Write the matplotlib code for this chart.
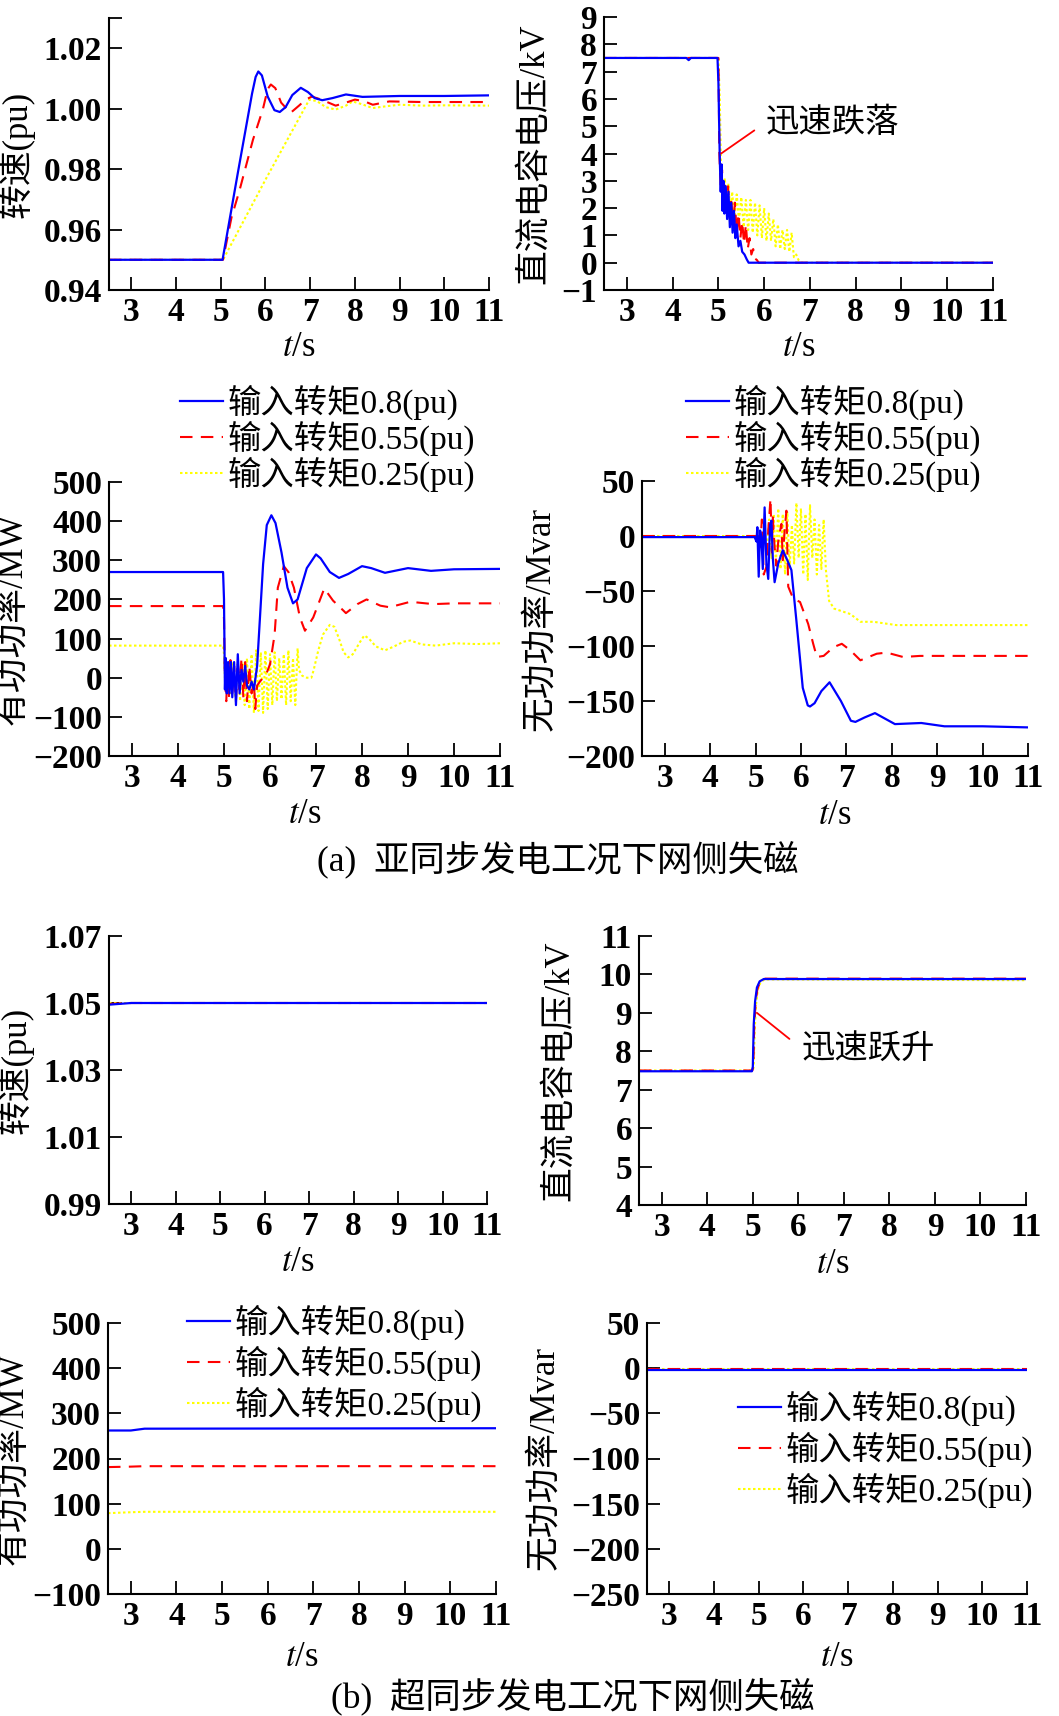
import matplotlib
matplotlib.use("Agg")
import matplotlib.pyplot as plt

plt.rcParams["font.family"] = ["Liberation Serif", "Noto Sans CJK SC"]
plt.rcParams["font.size"] = 24
plt.rcParams["mathtext.fontset"] = "stix"
plt.rcParams["axes.linewidth"] = 1.5

BLUE = "#0000ff"
RED = "#ff0000"
YELLOW = "#ffff00"
labels = ["输入转矩0.8(pu)", "输入转矩0.55(pu)", "输入转矩0.25(pu)"]

####################################################
# (a) sub-synchronous: rotor speed
ta_spd_08 = [2.5, 5.04, 5.38, 5.70, 5.78, 5.84, 5.92, 6.05, 6.20, 6.32, 6.45, 6.60,
             6.79, 6.95, 7.10, 7.27, 7.50, 7.80, 8.17, 9.0, 10.0, 11.0]
va_spd_08 = [0.950, 0.950, 0.9786, 1.0050, 1.0105, 1.0123, 1.0110, 1.0040, 0.9995, 0.9989,
             1.0005, 1.0045, 1.0069, 1.0055, 1.0035, 1.0028, 1.0035, 1.0047, 1.0039, 1.0042,
             1.0042, 1.0044]
ta_spd_055 = [2.5, 5.05, 5.24, 5.42, 5.72, 5.94, 6.05, 6.12, 6.22, 6.35, 6.56, 6.75, 6.90,
              7.04, 7.25, 7.57, 7.80, 8.00, 8.20, 8.40, 8.77, 9.5, 11.0]
va_spd_055 = [0.950, 0.950, 0.964, 0.973, 0.9897, 0.9997, 1.0065, 1.0080, 1.0068, 1.0020,
              0.9986, 1.0010, 1.0030, 1.0040, 1.0030, 1.0010, 1.0020, 1.0030, 1.0025, 1.0013,
              1.0024, 1.0022, 1.0022]
ta_spd_025 = [2.5, 5.05, 6.0, 6.98, 7.15, 7.35, 7.57, 7.80, 7.95, 8.15, 8.40, 8.70, 9.00,
              9.50, 10.0, 11.0]
va_spd_025 = [0.950, 0.950, 0.9765, 1.0030, 1.0025, 1.0005, 0.9997, 1.0010, 1.0024, 1.0015,
              1.0002, 1.0008, 1.0013, 1.0010, 1.0011, 1.0010]

# (a) DC-link capacitor voltage
ta_udc_08 = [2.5, 4.3, 4.35, 4.4, 4.98, 5.0, 5.03, 5.05, 5.07, 5.09, 5.11, 5.13, 5.16, 5.19,
             5.22, 5.25, 5.28, 5.31, 5.34, 5.37, 5.40, 5.44, 5.48, 5.52, 5.57, 5.62, 5.66, 11.0]
va_udc_08 = [7.50, 7.50, 7.42, 7.50, 7.50, 6.6, 3.8, 2.6, 3.6, 1.9, 3.0, 1.8, 2.8, 1.6, 2.6,
             1.3, 2.2, 1.1, 1.9, 0.9, 1.4, 0.6, 0.8, 0.4, 0.3, 0.12, 0.0, 0.0]
ta_udc_055 = [2.5, 5.0, 5.02, 5.05, 5.08, 5.11, 5.14, 5.18, 5.21, 5.25, 5.28, 5.32, 5.36,
              5.40, 5.44, 5.48, 5.52, 5.56, 5.60, 5.64, 5.68, 5.72, 5.76, 5.80, 5.84, 5.88, 11.0]
va_udc_055 = [7.5, 7.5, 4.0, 2.8, 3.4, 2.2, 2.9, 2.0, 2.8, 1.6, 2.4, 1.3, 2.2, 1.1, 1.8, 0.9,
              1.5, 0.7, 1.4, 0.5, 0.9, 0.3, 0.5, 0.15, 0.1, 0.0, 0.0]
ta_udc_025 = [2.5, 5.0, 5.03, 5.06, 5.10, 5.14, 5.18, 5.22, 5.26, 5.30, 5.35, 5.40, 5.45,
              5.50, 5.55, 5.60, 5.65, 5.70, 5.75, 5.80, 5.85, 5.90, 5.95, 6.00, 6.05, 6.10,
              6.15, 6.20, 6.25, 6.30, 6.35, 6.40, 6.45, 6.50, 6.55, 6.60, 6.65, 6.70, 6.75,
              6.80, 11.0]
va_udc_025 = [7.5, 7.5, 6.0, 3.2, 2.4, 3.1, 2.0, 2.9, 1.9, 2.6, 1.6, 2.5, 1.5, 2.4, 1.3, 2.3,
              1.2, 2.3, 1.1, 2.2, 1.0, 2.1, 0.9, 2.0, 0.8, 1.8, 0.8, 1.6, 0.6, 1.4, 0.5, 1.2,
              0.5, 1.2, 0.4, 1.1, 0.2, 0.3, 0.1, 0.0, 0.0]

# (a) active power
ta_p_08 = [2.5, 4.98, 5.0, 5.02, 5.04, 5.06, 5.09, 5.12, 5.15, 5.18, 5.22, 5.26, 5.30, 5.34,
           5.38, 5.42, 5.46, 5.50, 5.55, 5.60, 5.65, 5.72, 5.78, 5.85, 5.93, 6.03, 6.12, 6.25,
           6.38, 6.50, 6.60, 6.80, 7.00, 7.10, 7.30, 7.50, 7.70, 8.00, 8.20, 8.50, 9.00, 9.50,
           10.0, 11.0]
va_p_08 = [270, 270, 200, -30, 50, -40, 40, -40, 40, -50, 40, -70, 60, -40, 20, -10, 30, -20,
           -30, -10, -30, 30, 150, 290, 390, 415, 395, 320, 230, 190, 200, 280, 315, 305, 270,
           255, 265, 285, 280, 268, 280, 273, 277, 278]
ta_p_055 = [2.5, 4.98, 5.0, 5.02, 5.05, 5.08, 5.11, 5.14, 5.18, 5.22, 5.26, 5.30, 5.34, 5.38,
            5.42, 5.46, 5.50, 5.55, 5.60, 5.65, 5.68, 5.72, 5.78, 5.85, 5.92, 6.00, 6.10, 6.17,
            6.30, 6.40, 6.52, 6.65, 6.76, 6.94, 7.18, 7.37, 7.60, 7.65, 7.90, 8.10, 8.40, 8.60,
            9.05, 9.55, 10.0, 11.0]
va_p_055 = [183, 183, 150, 0, -60, 40, -50, 45, -40, 30, -60, 40, -30, 50, -50, 40, -60, 30,
            -40, -10, -80, -20, -10, 0, 10, 34, 110, 230, 285, 270, 230, 154, 120, 154, 228,
            197, 171, 165, 188, 200, 184, 180, 194, 188, 190, 190]
ta_p_025 = [2.5, 4.98, 5.0, 5.02, 5.05, 5.10, 5.15, 5.20, 5.25, 5.30, 5.35, 5.40, 5.45, 5.50,
            5.55, 5.60, 5.65, 5.70, 5.75, 5.80, 5.85, 5.90, 5.95, 6.00, 6.05, 6.10, 6.15, 6.20,
            6.25, 6.30, 6.35, 6.40, 6.45, 6.50, 6.55, 6.60, 6.63, 6.70, 6.80, 6.90, 6.95, 7.05,
            7.15, 7.30, 7.40, 7.50, 7.60, 7.70, 7.80, 7.95, 8.05, 8.15, 8.30, 8.50, 8.70, 8.90,
            9.05, 9.30, 9.60, 10.0, 10.5, 11.0]
va_p_025 = [82, 82, 60, 0, -20, 30, -40, 40, -50, 35, -60, 40, -70, 50, -80, 60, -90, 70, -85,
            65, -90, 70, -80, 60, -70, 65, -60, 50, -55, 60, -70, 70, -60, 50, -70, 75, 20, 5,
            0, 0, 20, 70, 110, 135, 130, 100, 65, 52, 60, 90, 108, 100, 80, 70, 80, 92, 95, 85,
            82, 88, 86, 88]

# (a) reactive power
ta_q_08 = [2.5, 4.98, 5.02, 5.04, 5.07, 5.10, 5.13, 5.16, 5.20, 5.24, 5.28, 5.32, 5.35, 5.38,
           5.42, 5.50, 5.60, 5.70, 5.79, 5.90, 6.04, 6.15, 6.20, 6.30, 6.45, 6.63, 6.88, 7.10,
           7.20, 7.40, 7.63, 7.85, 8.07, 8.65, 9.16, 10.0, 11.0]
va_q_08 = [-1, -1, -5, 8, -37, 5, -1, -30, 26, -25, -39, 10, 14, -20, -42, -25, -13, -22, -31,
           -77, -138, -154, -155, -152, -141, -133, -150, -168, -169, -165, -161, -166, -171,
           -170, -173, -173, -174]
ta_q_055 = [2.5, 5.05, 5.10, 5.14, 5.18, 5.24, 5.28, 5.33, 5.36, 5.38, 5.42, 5.46, 5.50, 5.57,
            5.60, 5.64, 5.68, 5.72, 5.83, 5.98, 6.16, 6.27, 6.35, 6.50, 6.72, 6.90, 7.09, 7.31,
            7.67, 7.89, 8.25, 8.62, 11.0]
va_q_055 = [0, 0, -10, 15, -35, -28, 5, 34, -15, 17, -10, -27, -5, 11, -22, 5, 23, -46, -57,
            -60, -80, -98, -110, -109, -101, -98, -104, -113, -107, -106, -110, -109, -109]
ta_q_025 = [2.5, 5.2, 5.25, 5.30, 5.35, 5.40, 5.45, 5.50, 5.55, 5.60, 5.65, 5.70, 5.75, 5.80,
            5.85, 5.90, 5.95, 6.00, 6.05, 6.10, 6.15, 6.20, 6.25, 6.30, 6.35, 6.40, 6.45, 6.50,
            6.55, 6.62, 6.73, 7.09, 7.31, 7.60, 8.10, 9.0, 11.0]
va_q_025 = [0, 0, -10, 15, -20, 20, -25, 25, -30, 20, -35, 22, -30, 10, -25, 30, -20, 25, -35,
            20, -40, 28, -20, 15, -35, 10, -30, 15, -31, -59, -66, -71, -78, -78, -81, -81, -81]

# (b) super-synchronous: rotor speed
tb_spd = [2.5, 3.0, 11.0]
vb_spd_08 = [1.0495, 1.0500, 1.0500]
vb_spd_055 = [1.0497, 1.0500, 1.0500]
vb_spd_025 = [1.0500, 1.0500, 1.0500]

# (b) DC-link capacitor voltage
tb_udc_08 = [2.5, 4.98, 5.0, 5.02, 5.05, 5.09, 5.15, 5.24, 11.0]
vb_udc_08 = [7.48, 7.48, 7.60, 8.70, 9.30, 9.66, 9.82, 9.88, 9.88]
tb_udc_055 = [2.5, 4.99, 5.01, 5.03, 5.06, 5.10, 5.16, 5.25, 11.0]
vb_udc_055 = [7.50, 7.50, 7.60, 8.60, 9.25, 9.62, 9.80, 9.89, 9.89]
tb_udc_025 = [2.5, 5.0, 5.02, 5.04, 5.07, 5.11, 5.17, 5.26, 11.0]
vb_udc_025 = [7.50, 7.50, 7.60, 8.50, 9.20, 9.60, 9.80, 9.87, 9.85]

# (b) active power
tb_p = [2.5, 3.0, 3.3, 11.0]
vb_p_08 = [262, 262, 266, 267]
vb_p_055 = [181, 182, 183, 183]
vb_p_025 = [79, 81, 82, 82]

# (b) reactive power
tb_q = [2.5, 11.0]
vb_q_08 = [-1.5, -1.5]
vb_q_055 = [-0.5, -0.5]
vb_q_025 = [-1.0, -1.0]

####################################################

W, H = 1059, 1716
fig = plt.figure(figsize=(W / 100, H / 100), dpi=100)


def make_ax(x0, y0, x1, y1):
    return fig.add_axes([x0 / W, 1 - y1 / H, (x1 - x0) / W, (y1 - y0) / H])


def fmt(v, d):
    return f"{v:.{d}f}".replace("-", "\u2212")


def style(ax, ylim, yticks, ydec, ylabel, ylab_x, xlab_y=-0.21):
    ax.set_xlim(2.5, 11)
    ax.set_ylim(*ylim)
    for s in ["top", "right"]:
        ax.spines[s].set_visible(False)
    xt = list(range(3, 12))
    ax.set_xticks(xt, labels=[str(v) for v in xt], fontweight="bold")
    ax.set_yticks(yticks, labels=[fmt(v, ydec) for v in yticks], fontweight="bold")
    ax.tick_params(which="both", direction="in", length=9.5, width=1.3, pad=5)
    ax.set_ylabel(ylabel, fontsize=25, va="center")
    ax.yaxis.set_label_coords(ylab_x, 0.5)
    ax.set_xlabel("$t$/s", fontsize=25, va="center")
    ax.xaxis.set_label_coords(0.5, xlab_y)


def draw(ax, t08, v08, t055, v055, t025, v025):
    l3, = ax.plot(t025, v025, color=YELLOW, lw=1.5, ls=(0, (1.2, 1.2)), label=labels[2])
    l2, = ax.plot(t055, v055, color=RED, lw=1.5, dashes=(6, 4), label=labels[1])
    l1, = ax.plot(t08, v08, color=BLUE, lw=1.6, label=labels[0])
    return [l1, l2, l3]


def legend(ax, handles, x, y, spacing):
    ax.legend(handles=handles, loc="upper left", bbox_to_anchor=(x / W, 1 - y / H),
              bbox_transform=fig.transFigure, frameon=False, borderpad=0,
              borderaxespad=0, handlelength=1.3, handletextpad=0.12,
              labelspacing=spacing)


# (a) row 1
ax1 = make_ax(109, 18, 489, 290)
draw(ax1, ta_spd_08, va_spd_08, ta_spd_055, va_spd_055, ta_spd_025, va_spd_025)
style(ax1, (0.94, 1.03), [0.94, 0.96, 0.98, 1.00, 1.02], 2, "转速(pu)", -0.245)
ax1.set_yticks([1.03], minor=True)

ax2 = make_ax(604, 17, 993, 290)
draw(ax2, ta_udc_08, va_udc_08, ta_udc_055, va_udc_055, ta_udc_025, va_udc_025)
style(ax2, (-1, 9), list(range(-1, 10)), 0, "直流电容电压/kV", -0.18)
ax2.annotate("迅速跌落", xy=(5.06, 4.0), xytext=(6.02, 5.12), va="center", ha="left",
             arrowprops=dict(arrowstyle="-", color=RED, lw=1.3, shrinkA=7, shrinkB=0,
                             relpos=(0, 0.5)))

# (a) row 2
ax3 = make_ax(109, 482, 500, 756)
h = draw(ax3, ta_p_08, va_p_08, ta_p_055, va_p_055, ta_p_025, va_p_025)
style(ax3, (-200, 500), list(range(-200, 501, 100)), 0, "有功功率/MW", -0.245, -0.215)
legend(ax3, h, 180, 385, 0.02)

ax4 = make_ax(642, 481, 1028, 756)
h = draw(ax4, ta_q_08, va_q_08, ta_q_055, va_q_055, ta_q_025, va_q_025)
style(ax4, (-200, 50), list(range(-200, 51, 50)), 0, "无功功率/Mvar", -0.262, -0.215)
legend(ax4, h, 686, 385, 0.02)

fig.text(558 / W, 1 - 859 / H, "(a)  亚同步发电工况下网侧失磁", ha="center", va="center",
         fontsize=25.5)

# (b) row 1
ax5 = make_ax(109, 936, 487, 1204)
draw(ax5, tb_spd, vb_spd_08, tb_spd, vb_spd_055, tb_spd, vb_spd_025)
style(ax5, (0.99, 1.07), [0.99, 1.01, 1.03, 1.05, 1.07], 2, "转速(pu)", -0.248, -0.22)

ax6 = make_ax(639, 936, 1026, 1205)
draw(ax6, tb_udc_08, vb_udc_08, tb_udc_055, vb_udc_055, tb_udc_025, vb_udc_025)
style(ax6, (4, 11), list(range(4, 12)), 0, "直流电容电压/kV", -0.205, -0.22)
ax6.annotate("迅速跃升", xy=(5.09, 9.0), xytext=(6.08, 8.06), va="center", ha="left",
             arrowprops=dict(arrowstyle="-", color=RED, lw=1.3, shrinkA=9, shrinkB=0,
                             relpos=(0, 0.5)))

# (b) row 2
ax7 = make_ax(108, 1323, 496, 1594)
h = draw(ax7, tb_p, vb_p_08, tb_p, vb_p_055, tb_p, vb_p_025)
style(ax7, (-100, 500), list(range(-100, 501, 100)), 0, "有功功率/MW", -0.242, -0.236)
legend(ax7, h, 187, 1305, 0.17)

ax8 = make_ax(647, 1323, 1027, 1594)
h = draw(ax8, tb_q, vb_q_08, tb_q, vb_q_055, tb_q, vb_q_025)
style(ax8, (-250, 50), list(range(-250, 51, 50)), 0, "无功功率/Mvar", -0.268, -0.236)
legend(ax8, h, 738, 1391, 0.17)

fig.text(573 / W, 1 - 1696 / H, "(b)  超同步发电工况下网侧失磁", ha="center", va="center",
         fontsize=25.5)

fig.savefig("out.png", dpi=100)
plt.close("all")
